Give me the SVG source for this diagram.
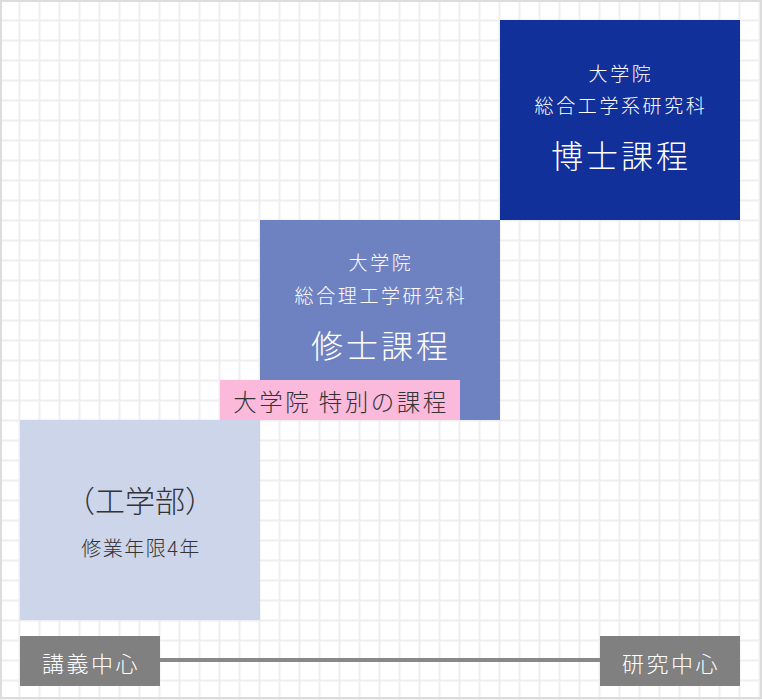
<svg xmlns="http://www.w3.org/2000/svg" width="762" height="700" viewBox="0 0 762 700">
<style>
text{font-family:"Noto Sans CJK JP","Noto Sans",sans-serif;text-anchor:middle;font-weight:300}
.w{fill:#ffffff}
.d{fill:#333333}
.s{font-size:19px;letter-spacing:2.6px}
.l{font-size:32px;letter-spacing:3px}
</style>
<defs>
<pattern id="grid" x="9.5" y="10.5" width="20" height="20" patternUnits="userSpaceOnUse">
<rect x="9" y="0" width="2" height="20" fill="#eeeeee"/>
<rect x="0" y="9" width="20" height="2" fill="#eeeeee"/>
</pattern>
</defs>
<rect x="0" y="0" width="762" height="700" fill="#ffffff"/>
<rect x="0" y="0" width="762" height="700" fill="url(#grid)"/>
<rect x="1" y="1" width="760" height="697" fill="none" stroke="#dcdcdc" stroke-width="2"/>
<g id="connectors">
<line x1="160" y1="660" x2="600" y2="660" stroke="#888888" stroke-width="4"/>
</g>
<g id="doctor">
<rect x="500" y="20" width="240" height="200" fill="#11309a"/>
<text class="w s" x="621" y="81">大学院</text>
<text class="w s" x="621" y="113">総合工学系研究科</text>
<text class="w l" x="621" y="168">博士課程</text>
</g>
<g id="master">
<rect x="260" y="220" width="240" height="200" fill="#6e82c2"/>
<text class="w s" x="381" y="270">大学院</text>
<text class="w s" x="381" y="303">総合理工学研究科</text>
<text class="w l" x="381" y="358">修士課程</text>
</g>
<g id="special">
<rect x="220" y="380" width="240" height="40" fill="#fbbadb"/>
<text class="d" x="341" y="411" font-size="23.5" letter-spacing="2.5">大学院 特別の課程</text>
</g>
<g id="undergrad">
<rect x="20" y="420" width="240" height="200" fill="#cdd5ea"/>
<text class="d" x="140" y="512" font-size="30">（工学部）</text>
<text class="d" x="141" y="556" font-size="20" letter-spacing="1.5">修業年限4年</text>
</g>
<g id="lecture">
<rect x="20" y="636" width="140" height="50" fill="#808080"/>
<text class="w" x="91" y="672" font-size="22" letter-spacing="2.5">講義中心</text>
</g>
<g id="research">
<rect x="600" y="636" width="140" height="50" fill="#808080"/>
<text class="w" x="671" y="672" font-size="22" letter-spacing="2.5">研究中心</text>
</g>
</svg>
